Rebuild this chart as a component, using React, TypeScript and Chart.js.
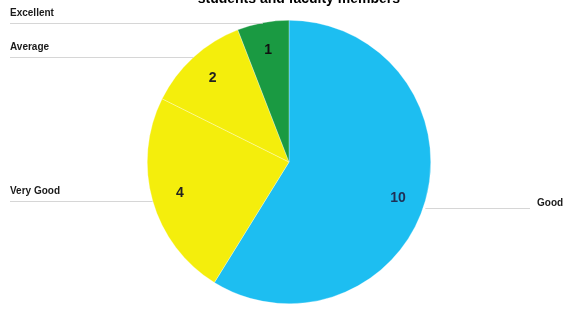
import React, { useEffect, useRef } from "react";
import { Chart, registerables } from "chart.js";

Chart.register(...registerables);

const categories = ["Good", "Very Good", "Average", "Excellent"];
const values = [10, 4, 2, 1];
const colors = ["#1DBEF1", "#F4EE0C", "#F4EE0C", "#1A9A42"];
const valueColors = ["#1F2F55", "#222222", "#222222", "#111111"];
const titleText = "students and faculty members";

const labelPlugin = {
  id: "customLabels",
  afterDatasetsDraw(chart: any) {
    const ctx = chart.ctx;
    const meta = chart.getDatasetMeta(0);
    ctx.save();
    // title (partly cut off at top)
    ctx.font = "bold 14px Arial, 'Liberation Sans', sans-serif";
    ctx.fillStyle = "#000";
    ctx.textAlign = "right";
    ctx.textBaseline = "alphabetic";
    ctx.fillText(titleText, 400, 3);

    meta.data.forEach((arc: any, i: number) => {
      const { x, y, startAngle, endAngle, outerRadius } = arc.getProps(
        ["x", "y", "startAngle", "endAngle", "outerRadius"],
        true
      );
      const mid = (startAngle + endAngle) / 2;
      const cos = Math.cos(mid);
      const sin = Math.sin(mid);
      // value label inside
      const vr = outerRadius * 0.8;
      ctx.font = "bold 14px Arial, 'Liberation Sans', sans-serif";
      ctx.fillStyle = valueColors[i];
      ctx.textAlign = "center";
      ctx.textBaseline = "middle";
      ctx.fillText(String(values[i]), x + cos * vr, y + sin * vr + (cos > 0.5 ? 5 : 0));

      // leader line + category label
      const ex = x + cos * outerRadius;
      const ey = y + sin * outerRadius;
      ctx.strokeStyle = "rgba(200,200,200,0.75)";
      ctx.lineWidth = 1;
      ctx.font = "bold 10px Arial, 'Liberation Sans', sans-serif";
      ctx.fillStyle = "#1a1a1a";
      ctx.textBaseline = "alphabetic";
      if (cos < 0) {
        ctx.beginPath();
        ctx.moveTo(ex, Math.round(ey) + 0.5);
        ctx.lineTo(10, Math.round(ey) + 0.5);
        ctx.stroke();
        ctx.textAlign = "left";
        ctx.fillText(categories[i], 10, ey - 7);
      } else {
        const ly = ey + 7;
        ctx.beginPath();
        ctx.moveTo(ex, Math.round(ly) + 0.5);
        ctx.lineTo(530, Math.round(ly) + 0.5);
        ctx.stroke();
        ctx.textAlign = "left";
        ctx.fillText(categories[i], 537, ly - 2);
      }
    });
    ctx.restore();
  },
};

export default function App() {
  const ref = useRef<HTMLCanvasElement>(null);
  useEffect(() => {
    if (!ref.current) return;
    const chart = new Chart(ref.current, {
      type: "pie",
      data: {
        labels: categories,
        datasets: [
          {
            data: values,
            backgroundColor: colors,
            borderColor: "rgba(255,255,255,0.6)",
            borderWidth: 0.5,
          },
        ],
      },
      options: {
        animation: false,
        responsive: false,
        layout: { padding: { left: 147, right: 134, top: 20, bottom: 6 } },
        plugins: {
          legend: { display: false },
          title: { display: false },
          tooltip: { enabled: false },
        },
      },
      plugins: [labelPlugin],
    });
    return () => chart.destroy();
  }, []);
  return (
    <div style={{ position: "fixed", left: 0, top: 0, width: 565, height: 310, background: "#fff" }}>
      <canvas ref={ref} width={565} height={310} style={{ width: 565, height: 310 }} />
    </div>
  );
}
